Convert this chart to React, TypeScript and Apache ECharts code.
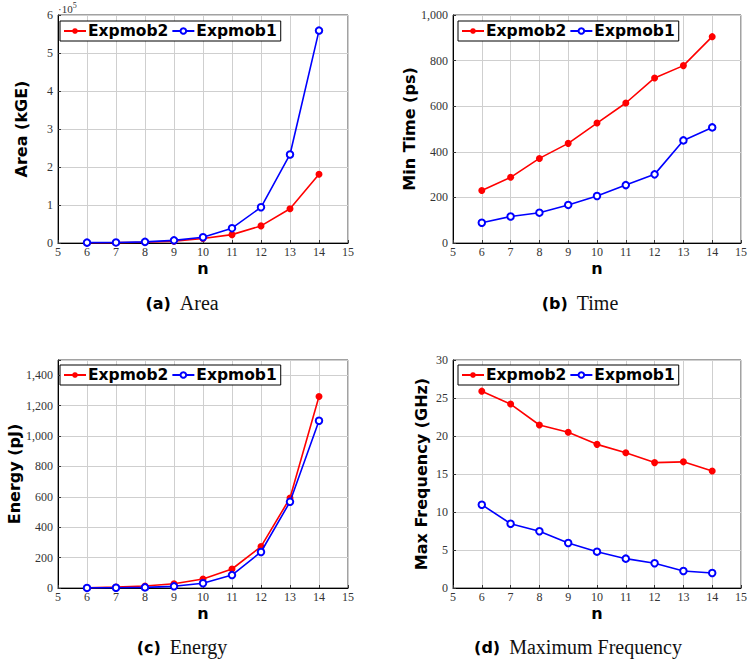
import React, { useEffect, useRef } from "react";
import * as echarts from "echarts";

const nValues = [6, 7, 8, 9, 10, 11, 12, 13, 14];
const seriesNames = ["Expmob2", "Expmob1"];

// Area (kGE)
const areaExpmob2 = [500, 1000, 2000, 5000, 12000, 22000, 45000, 90000, 181000];
const areaExpmob1 = [1000, 1500, 3000, 7000, 15000, 39000, 94000, 233000, 559000];
// Min Time (ps)
const timeExpmob2 = [230, 288, 371, 437, 526, 614, 724, 778, 905];
const timeExpmob1 = [89, 116, 133, 167, 206, 254, 301, 450, 507];
// Energy (pJ)
const energyExpmob2 = [2, 7, 13, 28, 59, 125, 272, 592, 1260];
const energyExpmob1 = [0.5, 2, 4, 11, 31, 85, 237, 567, 1100];
// Max Frequency (GHz)
const freqExpmob2 = [25.9, 24.2, 21.45, 20.5, 18.9, 17.8, 16.5, 16.6, 15.4];
const freqExpmob1 = [10.96, 8.46, 7.46, 5.92, 4.78, 3.86, 3.25, 2.24, 1.97];

const yNames = ["Area (kGE)", "Min Time (ps)", "Energy (pJ)", "Max Frequency (GHz)"];
const captionTags = ["(a)", "(b)", "(c)", "(d)"];
const captionTexts = ["Area", "Time", "Energy", "Maximum Frequency"];

const RED = "#ff0000";
const BLUE = "#0000ff";

export default function App() {
  const ref = useRef<HTMLDivElement>(null);

  useEffect(() => {
    if (!ref.current) return;
    const chart = echarts.init(ref.current, undefined, { renderer: "svg" });

    const grids = [
      { left: 58, top: 15, width: 290, height: 228 },
      { left: 453, top: 15, width: 291, height: 228 },
      { left: 58, top: 360, width: 290, height: 228 },
      { left: 453, top: 360, width: 291, height: 228 },
    ];
    const nameGaps = [29, 24, 28, 24];
    const yRanges = [
      { max: 600000, interval: 100000, fmt: (v: number) => String(v / 1e5) },
      { max: 1000, interval: 200, fmt: (v: number) => v.toLocaleString("en-US") },
      { max: 1500, interval: 200, fmt: (v: number) => (v > 1400 ? "" : v.toLocaleString("en-US")) },
      { max: 30, interval: 5, fmt: (v: number) => String(v) },
    ];
    const data = [
      [areaExpmob2, areaExpmob1],
      [timeExpmob2, timeExpmob1],
      [energyExpmob2, energyExpmob1],
      [freqExpmob2, freqExpmob1],
    ];

    const tickLabelStyle = {
      fontFamily: "Liberation Serif",
      fontSize: 12,
      color: "#333",
    };
    const nameStyle = {
      fontFamily: "DejaVu Sans",
      fontWeight: "bold" as const,
      fontSize: 16,
      color: "#000",
    };

    const xAxis = grids.map((_, i) => ({
      type: "value" as const,
      gridIndex: i,
      min: 5,
      max: 15,
      interval: 1,
      name: "n",
      nameLocation: "middle" as const,
      nameGap: 17,
      nameTextStyle: nameStyle,
      axisLine: { show: true, lineStyle: { color: "#000", width: 1 } },
      axisTick: { show: true, inside: true, length: 3, lineStyle: { color: "#333" } },
      axisLabel: { ...tickLabelStyle, margin: 3 },
      splitLine: { show: true, lineStyle: { color: "#cfcfcf", width: 1 } },
    }));

    const yAxis = grids.map((_, i) => ({
      type: "value" as const,
      gridIndex: i,
      min: 0,
      max: yRanges[i].max,
      interval: yRanges[i].interval,
      name: yNames[i],
      nameLocation: "middle" as const,
      nameGap: nameGaps[i],
      nameTextStyle: nameStyle,
      axisLine: { show: true, lineStyle: { color: "#000", width: 1 } },
      axisTick: { show: true, inside: true, length: 3, lineStyle: { color: "#333" } },
      axisLabel: { ...tickLabelStyle, margin: 5, formatter: yRanges[i].fmt },
      splitLine: { show: true, lineStyle: { color: "#cfcfcf", width: 1 } },
    }));

    const series: any[] = [];
    data.forEach((pair, i) => {
      series.push({
        name: seriesNames[0],
        type: "line",
        xAxisIndex: i,
        yAxisIndex: i,
        data: nValues.map((n, k) => [n, pair[0][k]]),
        symbol: "circle",
        symbolSize: 7,
        lineStyle: { color: RED, width: 1.6 },
        itemStyle: { color: RED },
        z: 2,
      });
      series.push({
        name: seriesNames[1],
        type: "line",
        xAxisIndex: i,
        yAxisIndex: i,
        data: nValues.map((n, k) => [n, pair[1][k]]),
        symbol: "emptyCircle",
        symbolSize: 6.5,
        lineStyle: { color: BLUE, width: 1.6 },
        itemStyle: { color: BLUE, borderColor: BLUE, borderWidth: 1.7 },
        z: 3,
      });
    });

    const legendPos = [
      { left: 60, top: 21 },
      { left: 458, top: 21 },
      { left: 60, top: 365 },
      { left: 458, top: 365 },
    ];
    const legend = legendPos.map((p) => ({
      ...p,
      data: seriesNames,
      orient: "horizontal" as const,
      itemWidth: 22,
      itemHeight: 7,
      itemGap: 3,
      padding: [2, 4, 2, 3],
      borderColor: "#000",
      borderWidth: 1,
      backgroundColor: "#fff",
      selectedMode: false,
      textStyle: { ...nameStyle, fontSize: 15.5, padding: [0, 0, 0, -3] },
    }));

    const captionCenters = [
      { x: 182, y: 303 },
      { x: 580, y: 303 },
      { x: 182, y: 647 },
      { x: 578, y: 647 },
    ];
    const graphic: any[] = captionCenters.map((c, i) => ({
      type: "text",
      x: c.x,
      y: c.y,
      style: {
        text: `{b|${captionTags[i]}}{r|${captionTexts[i]}}`,
        align: "center",
        verticalAlign: "middle",
        rich: {
          b: { fontFamily: "DejaVu Sans", fontWeight: "bold", fontSize: 16, fill: "#000", padding: [0, 9, 0, 0] },
          r: { fontFamily: "Liberation Serif", fontSize: 20, fill: "#111" },
        },
      },
    }));
    graphic.push({
      type: "text",
      x: 58,
      y: 9,
      style: {
        text: "·10{s|5}",
        verticalAlign: "middle",
        fontFamily: "Liberation Serif",
        fontSize: 11,
        fill: "#333",
        rich: {
          s: { fontFamily: "Liberation Serif", fontSize: 8, fill: "#333", verticalAlign: "top", padding: [0, 0, 8, 0] },
        },
      },
    });

    chart.setOption({
      animation: false,
      backgroundColor: "#fff",
      grid: grids.map((g) => ({ ...g, show: true, borderColor: "#444", borderWidth: 1, backgroundColor: "transparent" })),
      xAxis,
      yAxis,
      legend,
      series,
      graphic,
    });

    return () => chart.dispose();
  }, []);

  return (
    <div
      ref={ref}
      style={{ position: "absolute", left: 0, top: 0, width: 750, height: 666, background: "#fff" }}
    />
  );
}
